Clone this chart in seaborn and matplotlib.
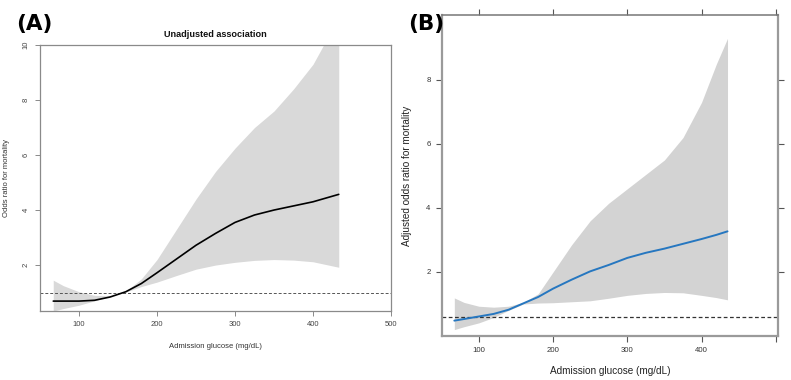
import numpy as np
import pandas as pd
import matplotlib
matplotlib.use("Agg")
import matplotlib.pyplot as plt
import seaborn as sns

# ---------------- data ----------------
# Panel A: unadjusted association
a_x = [67, 80, 100, 120, 140, 160, 180, 200, 225, 250, 275, 300, 325, 350, 375, 400, 433]
a_or = [0.69, 0.69, 0.69, 0.72, 0.84, 1.03, 1.33, 1.72, 2.22, 2.72, 3.15, 3.55, 3.82, 4.0, 4.15, 4.3, 4.57]
a_lo = [0.33, 0.42, 0.54, 0.70, 0.86, 1.02, 1.22, 1.38, 1.62, 1.85, 2.0, 2.1, 2.17, 2.2, 2.18, 2.12, 1.92]
a_hi = [1.45, 1.25, 1.03, 0.90, 0.88, 1.05, 1.50, 2.2, 3.3, 4.4, 5.4, 6.25, 7.0, 7.6, 8.4, 9.3, 11.0]

# Panel B: adjusted association
b_x = [67, 80, 100, 120, 140, 160, 180, 200, 225, 250, 275, 300, 325, 350, 375, 400, 420, 435]
b_or = [0.48, 0.53, 0.61, 0.69, 0.82, 1.02, 1.22, 1.48, 1.76, 2.02, 2.22, 2.44, 2.6, 2.73, 2.88, 3.03, 3.16, 3.27]
b_lo = [0.20, 0.29, 0.41, 0.58, 0.80, 1.0, 1.03, 1.04, 1.07, 1.1, 1.18, 1.27, 1.33, 1.36, 1.35, 1.27, 1.2, 1.13]
b_hi = [1.19, 1.05, 0.93, 0.90, 0.93, 1.05, 1.32, 2.0, 2.85, 3.6, 4.15, 4.6, 5.05, 5.5, 6.2, 7.3, 8.5, 9.3]

a_ref = 1.0
b_ref = 0.6

a_xticks = [100, 200, 300, 400, 500]
a_yticks = [2, 4, 6, 8, 10]
b_xticks = [100, 200, 300, 400, 500]
b_yticks = [2, 4, 6, 8]

df_a = pd.DataFrame({"glucose": a_x, "or": a_or, "lo": a_lo, "hi": a_hi})
df_b = pd.DataFrame({"glucose": b_x, "or": b_or, "lo": b_lo, "hi": b_hi})

sns.set_style("white")
plt.rcParams["font.family"] = ["Liberation Sans", "DejaVu Sans"]

W, H = 791, 380
fig = plt.figure(figsize=(W / 100, H / 100), dpi=100)

def box(l, t, r, b):
    return [l / W, 1 - b / H, (r - l) / W, (b - t) / H]

# ---------------- Panel A ----------------
axA = fig.add_axes(box(40, 45, 391, 311))
axA.fill_between(df_a["glucose"], df_a["lo"], df_a["hi"], color="#d9d9d9", lw=0, zorder=1)
sns.lineplot(data=df_a, x="glucose", y="or", ax=axA, color="black", lw=1.2, zorder=3)
axA.axhline(a_ref, color="#555555", ls=(0, (3, 2)), lw=0.7, zorder=2)
axA.set_xlim(50, 500)
axA.set_ylim(0.33, 10)
axA.set_xticks(a_xticks)
axA.set_yticks(a_yticks)
axA.set_xticklabels([str(v) for v in a_xticks])
axA.set_yticklabels([str(v) for v in a_yticks], rotation=90, va="center")
for s in axA.spines.values():
    s.set_visible(True)
    s.set_color("#8a8a8a")
    s.set_linewidth(0.9)
axA.tick_params(axis="both", direction="out", length=3.5, width=0.7, color="#8a8a8a",
                labelsize=5.5, labelcolor="#444444", pad=4, left=True, bottom=True)
axA.set_xlabel("Admission glucose (mg/dL)", fontsize=5.5, color="#333333")
axA.set_ylabel("Odds ratio for mortality", fontsize=5.5, color="#333333")
axA.xaxis.set_label_coords(0.5, -0.12)
axA.yaxis.set_label_coords(-0.085, 0.5)
axA.text(0.5, 1.038, "Unadjusted association", transform=axA.transAxes, ha="center",
         va="center", fontsize=6.6, fontweight="bold", color="#111111")

# ---------------- Panel B ----------------
axB = fig.add_axes(box(441.7, 15, 778, 336))
axB.fill_between(df_b["glucose"], df_b["lo"], df_b["hi"], color="#d3d3d3", lw=0, zorder=1)
sns.lineplot(data=df_b, x="glucose", y="or", ax=axB, color="#2677c0", lw=1.4, zorder=3)
axB.axhline(b_ref, color="#333333", ls=(0, (3, 2)), lw=0.9, zorder=2)
axB.set_xlim(50, 503)
axB.set_ylim(0, 10.03)
axB.set_xticks(b_xticks)
axB.set_yticks(b_yticks)
axB.set_xticklabels([str(v) if v < 500 else "" for v in b_xticks])
axB.set_yticklabels([str(v) for v in b_yticks])
for name, s in axB.spines.items():
    s.set_visible(True)
    s.set_color("#9a9a9a")
    s.set_linewidth(1.6 if name in ("left", "right", "bottom") else 1.1)
axB.spines["top"].set_color("#777777")
axB.tick_params(axis="both", direction="out", length=4, width=0.8, color="#555555",
                labelsize=5.6, labelcolor="#333333", pad=4,
                left=True, bottom=True, right=True, top=True,
                labelleft=True, labelbottom=True, labelright=False, labeltop=False)
axB.set_xlabel("Admission glucose (mg/dL)", fontsize=7.2, color="#222222")
axB.set_ylabel("Adjusted odds ratio for mortality", fontsize=7.2, color="#222222")
axB.xaxis.set_label_coords(0.5, -0.093)
axB.yaxis.set_label_coords(-0.088, 0.5)

# ---------------- panel letters ----------------
fig.text(16 / W, 1 - 24 / H, "(A)", fontsize=15.5, fontweight="bold", va="center",
         ha="left", family="DejaVu Sans", color="black")
fig.text(408 / W, 1 - 24 / H, "(B)", fontsize=15.5, fontweight="bold", va="center",
         ha="left", family="DejaVu Sans", color="black", zorder=5)

fig.savefig("out.png", dpi=100)
